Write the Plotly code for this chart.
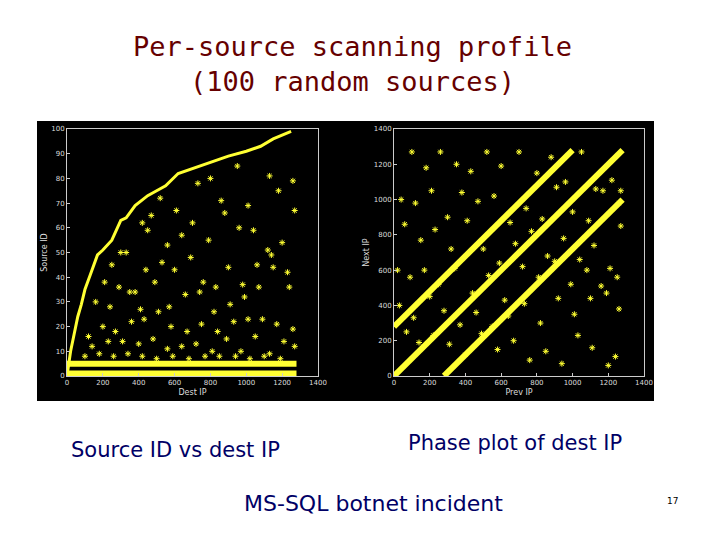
import plotly.graph_objects as go

# Plot 1: Source ID vs Dest IP
edge_x = [0, 20, 40, 60, 80, 100, 130, 170, 200, 250, 300, 330, 380, 450, 500, 550, 620, 700, 780, 830, 900, 1000, 1080, 1150, 1250]
edge_y = [0, 10, 17, 24, 29, 35, 41, 49, 51, 55, 63, 64, 69, 73, 75, 77, 82, 84, 86, 87, 89, 91, 93, 96, 99]
band_x = [0, 1280]
band1_y = [1, 1]
band2_y = [5, 5]
sc1_x = [300, 420, 470, 520, 610, 730, 800, 860, 950, 1010, 1130, 1180, 1260, 250, 330, 450, 560, 640, 700, 790, 880, 960, 1040, 1120, 1200, 1270,
         210, 290, 380, 440, 530, 600, 690, 760, 830, 900, 980, 1060, 1140, 1230, 160, 240, 350, 410, 490, 570, 660, 740, 820, 910, 990, 1070, 1150, 1240,
         120, 200, 270, 360, 430, 510, 580, 670, 750, 840, 930, 1010, 1090, 1170, 1260, 140, 230, 310, 400, 480, 560, 640, 720, 810, 890, 970, 1050, 1130, 1210,
         100, 180, 260, 340, 420, 500, 590, 680, 770, 850, 940, 1020, 1100, 1190, 1270]
sc1_y = [50, 62, 65, 72, 67, 78, 80, 71, 85, 69, 81, 75, 79, 45, 50, 59, 53, 57, 62, 55, 66, 60, 59, 51, 54, 67,
         38, 36, 34, 43, 46, 43, 48, 38, 36, 44, 37, 45, 49, 42, 30, 28, 34, 27, 38, 28, 33, 34, 26, 29, 32, 36, 44, 36,
         16, 20, 18, 22, 23, 26, 20, 18, 21, 18, 22, 23, 23, 21, 19, 12, 14, 14, 13, 15, 11, 12, 13, 10, 15, 10, 16, 9, 14,
         8, 9, 8, 9, 8, 7, 8, 7, 8, 8, 8, 7, 8, 7, 12]

# Plot 2: Next IP vs Prev IP
diag_x = [0, 1280]
diag_y = [0, 1280]
up_x = [0, 1000]
up_y = [280, 1280]
lo_x = [280, 1280]
lo_y = [0, 1000]
sc2_x = [100, 180, 260, 350, 430, 520, 600, 700, 800, 880, 960, 1050, 1130, 1220, 1270, 40, 120, 210, 300, 380, 470, 560, 650, 740, 830, 910, 1000, 1090, 1170, 1260,
         60, 150, 230, 320, 410, 500, 590, 680, 770, 860, 950, 1040, 1120, 1210, 1270, 20, 90, 170, 250, 340, 440, 530, 620, 720, 810, 900, 990, 1080, 1160, 1250,
         30, 110, 200, 280, 370, 460, 550, 640, 730, 820, 920, 1010, 1100, 1190, 1260, 70, 140, 220, 310, 400, 490, 580, 670, 760, 850, 940, 1030, 1110, 1200, 1240]
sc2_y = [1270, 1180, 1270, 1200, 1160, 1270, 1190, 1270, 1150, 1240, 1100, 1270, 1060, 1110, 1050, 1000, 980, 1050, 900, 1040, 990, 1020, 870, 950, 890, 1070, 930, 880, 1050, 980,
         860, 770, 830, 720, 880, 720, 640, 750, 820, 680, 780, 660, 740, 610, 850, 600, 560, 600, 520, 610, 470, 570, 430, 620, 560, 650, 520, 600, 510, 560,
         400, 330, 450, 370, 290, 360, 280, 340, 410, 300, 440, 350, 440, 470, 380, 250, 190, 230, 180, 120, 240, 150, 200, 90, 140, 70, 230, 160, 60, 110]

W, H, OFF = 720, 540, 8
def px(x): return (x - OFF) / W
def py(y): return 1 - (y - OFF) / H

Y = "#ffff33"
fig = go.Figure()
common = dict(mode="markers", marker=dict(symbol="asterisk-open", size=5, color=Y, line=dict(color=Y, width=1)), showlegend=False)
fig.add_trace(go.Scatter(x=sc1_x, y=sc1_y, xaxis="x", yaxis="y", **common))
fig.add_trace(go.Scatter(x=sc2_x, y=sc2_y, xaxis="x2", yaxis="y2", **common))
for xs, ys, w in [(edge_x, edge_y, 3), (band_x, band1_y, 6), (band_x, band2_y, 6)]:
    fig.add_trace(go.Scatter(x=xs, y=ys, mode="lines", line=dict(color=Y, width=w), xaxis="x", yaxis="y", showlegend=False))
for xs, ys in [(diag_x, diag_y), (up_x, up_y), (lo_x, lo_y)]:
    fig.add_trace(go.Scatter(x=xs, y=ys, mode="lines", line=dict(color=Y, width=6), xaxis="x2", yaxis="y2", showlegend=False))

ax = dict(showgrid=False, zeroline=False, showline=True, linecolor="#cccccc", mirror=True, ticks="inside", ticklen=3,
          tickcolor="#cccccc", tickfont=dict(size=7, color="#dddddd", family="DejaVu Sans"))
tf = dict(size=8, color="#dddddd", family="DejaVu Sans")

def ann(text, x, y, size, color, family="DejaVu Sans"):
    return dict(text=text, x=px(x), y=py(y), xref="paper", yref="paper", showarrow=False,
                xanchor="center", yanchor="middle", font=dict(size=size, color=color, family=family))

fig.update_layout(
    width=W, height=H, margin=dict(l=0, r=0, t=0, b=0, autoexpand=False),
    paper_bgcolor="white", plot_bgcolor="black",
    xaxis=dict(domain=[px(67), px(318)], range=[0, 1400], dtick=200, anchor="y", title=dict(text="Dest IP", font=tf, standoff=2), **ax),
    yaxis=dict(domain=[py(376), py(129)], range=[0, 100], dtick=10, anchor="x", title=dict(text="Source ID", font=tf, standoff=2), **ax),
    xaxis2=dict(domain=[px(394), px(644)], range=[0, 1400], dtick=200, anchor="y2", title=dict(text="Prev IP", font=tf, standoff=2), **ax),
    yaxis2=dict(domain=[py(376), py(129)], range=[0, 1400], dtick=200, anchor="x2", title=dict(text="Next IP", font=tf, standoff=2), **ax),
    shapes=[
        dict(type="rect", xref="paper", yref="paper", x0=px(37), x1=px(358), y0=py(401), y1=py(121), fillcolor="black", line=dict(width=0), layer="below"),
        dict(type="rect", xref="paper", yref="paper", x0=px(357), x1=px(654), y0=py(401), y1=py(121), fillcolor="black", line=dict(width=0), layer="below"),
    ],
    annotations=[
        ann("Per-source scanning profile<br>(100 random sources)", 352, 64, 27, "#660000", "DejaVu Sans Mono"),
        ann("Source ID vs dest IP", 175, 450, 21, "#000066"),
        ann("Phase plot of dest IP", 515, 443, 21, "#000066"),
        ann("MS-SQL botnet incident", 373, 503, 22, "#000066"),
        ann("17", 672, 501, 9, "black"),
    ],
)
fig.write_html("out.html")
